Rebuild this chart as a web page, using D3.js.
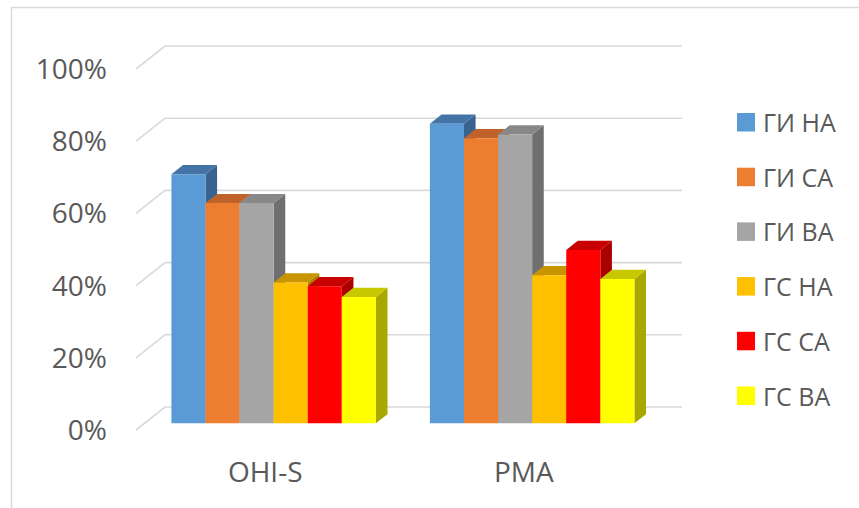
<!DOCTYPE html>
<html>
<head>
<meta charset="utf-8">
<script src="https://cdn.jsdelivr.net/npm/d3@7"></script>
<style>
  html, body { margin: 0; padding: 0; background: #fff; }
  svg { display: block; }
  text { font-family: "Open Sans", "Noto Sans", sans-serif; fill: #595959; }
</style>
</head>
<body>
<script>
// Categories, series and values (shares, 0..1)
const categories = ["OHI-S", "PMA"];
const seriesNames = ["ГИ НА", "ГИ СА", "ГИ ВА", "ГС НА", "ГС СА", "ГС ВА"];
const giNA = [0.69, 0.83];
const giSA = [0.61, 0.79];
const giVA = [0.61, 0.80];
const gsNA = [0.39, 0.41];
const gsSA = [0.38, 0.48];
const gsVA = [0.35, 0.40];
const yTicks = [0, 0.2, 0.4, 0.6, 0.8, 1.0];

const seriesValues = [giNA, giSA, giVA, gsNA, gsSA, gsVA];
// front, top and side shades for each series
const faceColors = [
  ["#5b9bd5", "#4374a5", "#386390"],
  ["#ed7d31", "#c0622a", "#a85524"],
  ["#a5a5a5", "#888888", "#6f6f6f"],
  ["#ffc000", "#c89500", "#ad8200"],
  ["#ff0000", "#c80000", "#aa0000"],
  ["#ffff00", "#c8c800", "#a8a800"]
];

const W = 859, H = 508;
const svg = d3.select("body").append("svg").attr("width", W).attr("height", H);

// chart area frame
svg.append("rect")
  .attr("x", 11.5).attr("y", 7.5).attr("width", 900).attr("height", 600)
  .attr("fill", "#fff").attr("stroke", "#d9d9d9").attr("stroke-width", 1.5);

// oblique depth vector of the plot box
const DX = 29, DY = 23;
const depthFront = 0.29, depthBack = 0.69;

const y = d3.scaleLinear().domain([0, 1]).range([430, 69]);
const x = d3.scaleBand().domain(categories).range([136, 653]);
const xs = d3.scaleBand().domain(seriesNames).range([27, x.bandwidth() - 27]);

const proj = (px, v, t) => [px + t * DX, y(v) - t * DY];

// gridlines: left wall segment + back wall line
const grid = svg.append("g");
yTicks.forEach(v => {
  const a = proj(x.range()[0], v, 0), b = proj(x.range()[0], v, 1), c = proj(x.range()[1], v, 1);
  grid.append("path")
    .attr("d", d3.line()([a, b, c]))
    .attr("fill", "none").attr("stroke", "#d9d9d9").attr("stroke-width", 1.6);
});

// value axis labels
const fmt = d3.format(".0%");
svg.append("g").selectAll("text").data(yTicks).join("text")
  .attr("x", 107).attr("y", d => y(d))
  .attr("dy", "0.36em")
  .attr("text-anchor", "end")
  .style("font-size", "28px")
  .text(d => fmt(d));

// bars as oblique boxes: front, top, side
const bars = svg.append("g");
categories.forEach((cat, ci) => {
  seriesNames.forEach((s, si) => {
    const v = seriesValues[si][ci];
    const x0 = x(cat) + xs(s), x1 = x0 + xs.bandwidth();
    const [cf, ct, cs] = faceColors[si];
    const front = [proj(x0, 0, depthFront), proj(x1, 0, depthFront), proj(x1, v, depthFront), proj(x0, v, depthFront)];
    const top = [proj(x0, v, depthFront), proj(x1, v, depthFront), proj(x1, v, depthBack), proj(x0, v, depthBack)];
    const side = [proj(x1, 0, depthFront), proj(x1, v, depthFront), proj(x1, v, depthBack), proj(x1, 0, depthBack)];
    const g = bars.append("g");
    g.append("path").attr("d", d3.line()(side) + "Z").attr("fill", cs);
    g.append("path").attr("d", d3.line()(top) + "Z").attr("fill", ct);
    g.append("path").attr("d", d3.line()(front) + "Z").attr("fill", cf);
  });
});

// category labels
svg.append("g").selectAll("text").data(categories).join("text")
  .attr("x", d => x(d) + x.bandwidth() / 2)
  .attr("y", 481.5)
  .attr("text-anchor", "middle")
  .style("font-size", "28px")
  .text(d => d);

// legend
const legend = svg.append("g").attr("transform", "translate(737,113)");
const rowH = 54.7;
seriesNames.forEach((s, i) => {
  const row = legend.append("g").attr("transform", `translate(0,${i * rowH})`);
  row.append("rect").attr("width", 18).attr("height", 18.5).attr("fill", faceColors[i][0]);
  row.append("text").attr("x", 26).attr("y", 19)
    .style("font-size", "25px")
    .text(s);
});
</script>
</body>
</html>
